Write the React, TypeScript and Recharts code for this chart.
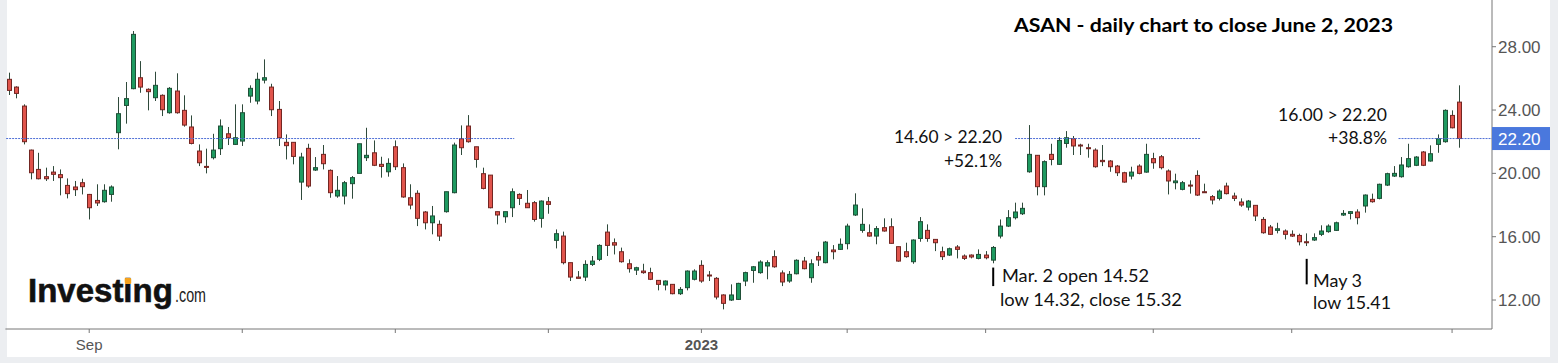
import React from "react";
import { Bar, ComposedChart, ReferenceLine, XAxis, YAxis } from "recharts";

// daily OHLC, 17 Aug 2022 .. 2 Jun 2023
const opens = [
  25.94, 25.45, 24.25, 21.47, 20.25, 19.79, 20.08, 19.92, 19.24, 19.14, 19.41, 18.67, 18.29, 18.21, 18.67, 22.57, 24.29, 25.35, 26.04, 25.31,
  24.78, 24.93, 23.83, 25.2, 23.98, 22.93, 21.41, 20.44, 20.99, 21.56, 22.5, 21.83, 22.04, 24.88, 24.57, 25.89, 25.45, 24.04, 21.96, 21.96,
  19.45, 21.58, 20.21, 21.2, 20.19, 18.57, 18.57, 19.35, 20.0, 20.99, 21.3, 20.57, 20.1, 21.68, 20.36, 18.46, 18.74, 17.56, 16.88, 16.78,
  17.58, 18.78, 22.19, 22.99, 21.68, 19.98, 19.89, 17.58, 17.26, 17.83, 18.67, 18.11, 18.15, 17.16, 18.21, 15.77, 16.04, 14.36, 13.45, 13.45,
  14.25, 14.57, 16.29, 15.62, 15.05, 14.29, 13.89, 13.83, 13.73, 13.24, 12.95, 12.99, 12.4, 12.78, 13.31, 14.19, 13.58, 13.37, 12.32, 12.0,
  12.04, 13.2, 13.87, 13.73, 14.15, 14.74, 13.71, 13.2, 13.66, 14.46, 13.41, 14.74, 14.36, 15.16, 15.2, 15.56, 17.37, 16.4, 16.25, 16.04,
  16.57, 16.63, 15.37, 15.05, 14.42, 15.89, 16.4, 15.83, 15.05, 14.84, 15.35, 14.78, 14.84, 14.63, 14.84, 14.52, 16.04, 16.67, 17.2, 17.45,
  20.1, 21.14, 19.16, 21.2, 20.57, 21.89, 22.19, 21.79, 21.62, 21.47, 20.82, 20.78, 20.46, 20.04, 19.83, 20.46, 20.08, 20.93, 21.05, 20.15,
  19.41, 18.99, 19.26, 19.87, 18.84, 18.53, 18.42, 19.2, 18.57, 18.19, 17.87, 17.98, 17.09, 16.61, 16.4, 16.36, 16.15, 16.08, 15.68, 15.79,
  16.15, 16.32, 16.4, 17.37, 17.47, 17.56, 17.94, 18.36, 18.42, 19.26, 19.83, 19.79, 20.42, 20.51, 21.35, 20.78, 21.83, 22.0, 23.66, 24.5,
];
const highs = [
  26.36, 25.5, 24.36, 21.5, 21.3, 20.36, 20.46, 20.25, 19.68, 19.52, 19.66, 18.7, 19.31, 19.31, 19.24, 24.82, 25.77, 28.99, 27.09, 25.37,
  26.42, 24.99, 25.45, 26.32, 24.93, 23.66, 21.83, 21.56, 22.5, 23.41, 22.93, 24.36, 24.36, 25.56, 26.36, 27.2, 25.66, 24.57, 22.46, 21.96,
  21.3, 21.87, 21.03, 21.79, 20.25, 19.83, 19.52, 19.83, 21.87, 22.88, 22.08, 21.05, 20.95, 22.08, 20.63, 19.31, 18.93, 17.62, 17.94, 17.03,
  18.84, 21.94, 23.03, 23.68, 21.68, 20.36, 19.89, 17.58, 17.58, 19.05, 18.74, 18.95, 18.25, 18.29, 18.51, 16.46, 16.32, 14.36, 13.83, 14.51,
  14.78, 15.52, 16.78, 15.89, 15.31, 14.57, 14.1, 14.29, 14.04, 13.24, 13.24, 12.99, 12.82, 13.87, 13.94, 14.51, 13.83, 13.45, 12.36, 12.99,
  13.09, 13.79, 14.15, 14.51, 14.51, 15.14, 13.87, 13.83, 14.57, 14.72, 14.57, 15.05, 15.73, 15.47, 15.89, 16.82, 18.74, 17.79, 16.78, 16.67,
  17.16, 17.16, 15.37, 15.62, 15.83, 17.24, 16.78, 15.83, 15.37, 15.31, 15.47, 14.88, 14.88, 15.2, 15.09, 15.41, 17.09, 17.68, 18.15, 18.15,
  23.05, 21.16, 20.82, 21.87, 22.29, 22.67, 22.36, 21.87, 21.87, 21.58, 21.79, 20.84, 20.53, 20.1, 20.42, 20.57, 21.87, 21.3, 21.16, 20.25,
  19.98, 19.52, 19.56, 20.19, 19.35, 18.63, 18.99, 19.41, 18.78, 18.42, 18.32, 17.98, 17.24, 16.74, 16.88, 16.46, 16.4, 16.19, 16.21, 16.21,
  16.72, 16.78, 16.95, 17.68, 17.62, 17.73, 18.67, 18.72, 19.35, 20.04, 20.46, 21.03, 21.87, 21.09, 21.41, 21.77, 22.46, 24.04, 23.98, 25.56,
];
const lows = [
  24.95, 24.74, 21.83, 19.62, 19.62, 19.52, 19.52, 18.61, 18.42, 18.57, 18.67, 17.09, 17.94, 18.15, 18.21, 21.52, 23.14, 25.31, 25.09, 23.98,
  24.57, 23.62, 23.77, 23.77, 22.95, 21.83, 20.46, 20.0, 20.88, 21.16, 21.79, 21.79, 21.73, 24.46, 24.36, 25.68, 23.62, 21.73, 20.88, 20.57,
  18.32, 19.09, 20.15, 20.25, 18.46, 18.46, 18.04, 18.4, 20.0, 20.78, 20.46, 19.73, 19.79, 20.21, 18.46, 17.73, 16.67, 16.46, 16.15, 15.73,
  17.52, 18.74, 21.16, 21.94, 20.36, 18.99, 17.79, 16.78, 16.88, 17.24, 18.0, 17.83, 16.95, 16.57, 17.45, 15.26, 14.25, 13.2, 13.37, 13.2,
  14.15, 14.46, 14.78, 14.88, 14.36, 13.73, 13.58, 13.66, 13.26, 12.61, 12.61, 12.36, 12.32, 12.61, 13.24, 13.09, 13.2, 12.04, 11.41, 11.94,
  12.0, 12.88, 13.09, 13.66, 13.31, 14.04, 12.88, 13.09, 13.62, 13.94, 13.09, 14.15, 14.32, 14.57, 15.16, 15.2, 17.31, 16.25, 16.0, 15.52,
  16.32, 15.56, 14.42, 14.67, 14.29, 15.68, 15.68, 15.09, 14.53, 14.78, 14.63, 14.53, 14.63, 14.57, 14.57, 14.32, 15.89, 16.61, 17.09, 17.37,
  20.04, 18.61, 18.61, 20.51, 20.53, 21.62, 21.16, 21.16, 20.99, 20.36, 20.46, 20.1, 19.83, 19.41, 19.62, 19.94, 20.04, 20.29, 20.25, 18.67,
  18.99, 18.93, 18.72, 18.57, 18.78, 18.04, 18.29, 18.67, 18.25, 17.89, 17.66, 16.99, 16.19, 16.11, 16.21, 15.83, 15.98, 15.45, 15.41, 15.73,
  16.04, 16.25, 16.36, 17.31, 17.09, 16.78, 17.52, 18.15, 18.36, 19.2, 19.77, 19.73, 20.36, 20.46, 20.46, 20.74, 21.3, 21.94, 22.84, 21.62,
];
const closes = [
  25.24, 25.05, 22.0, 20.04, 19.66, 19.66, 19.94, 19.73, 18.72, 18.97, 19.16, 17.83, 18.13, 18.93, 19.14, 23.77, 24.72, 28.78, 25.45, 25.16,
  25.56, 24.02, 25.37, 23.83, 23.05, 21.89, 20.67, 20.4, 21.47, 22.99, 22.25, 22.25, 23.83, 25.37, 25.94, 26.04, 24.02, 22.25, 21.75, 21.07,
  21.03, 19.2, 20.36, 20.61, 18.78, 18.93, 19.41, 19.73, 21.87, 21.14, 20.51, 20.44, 20.63, 20.42, 18.51, 18.0, 17.16, 16.88, 17.31, 16.04,
  18.84, 21.79, 21.62, 22.0, 20.88, 19.05, 17.83, 17.37, 17.58, 18.84, 18.42, 17.83, 17.09, 18.25, 18.04, 16.19, 14.36, 13.45, 13.37, 14.25,
  14.46, 15.45, 15.45, 15.47, 14.42, 13.98, 14.04, 13.73, 13.31, 12.99, 13.2, 12.4, 12.67, 13.83, 13.83, 13.2, 13.52, 12.19, 11.79, 12.32,
  13.05, 13.73, 14.1, 14.4, 14.36, 14.1, 13.14, 13.62, 14.51, 13.98, 14.29, 14.53, 15.66, 15.05, 15.52, 16.67, 18.0, 16.78, 16.04, 16.51,
  16.36, 15.58, 14.46, 14.74, 15.79, 16.95, 15.89, 15.62, 14.74, 15.24, 15.2, 14.63, 14.72, 14.88, 14.67, 15.32, 16.67, 17.2, 17.56, 17.79,
  21.2, 19.16, 20.74, 20.88, 22.08, 22.25, 21.73, 21.73, 21.56, 20.42, 20.74, 20.42, 20.04, 19.45, 20.08, 20.0, 21.2, 20.67, 20.36, 19.52,
  19.52, 19.41, 19.2, 18.63, 18.78, 18.32, 18.88, 18.72, 18.42, 18.0, 18.25, 17.31, 16.25, 16.15, 16.5, 16.15, 16.04, 15.68, 15.64, 15.94,
  16.36, 16.67, 16.88, 17.47, 17.58, 17.2, 18.63, 18.21, 19.31, 19.98, 20.0, 20.53, 20.93, 21.03, 20.51, 21.24, 22.19, 23.98, 22.88, 22.2,
];

const firstDay = "2022-08-17";
const lastDay = "2023-06-02";
const holidays = ["2022-09-05", "2022-11-24", "2022-12-26", "2023-01-02", "2023-01-16", "2023-02-20", "2023-04-07", "2023-05-29"];
const monthTicks = ["2022-09-01", "2022-10-03", "2022-11-01", "2022-12-01", "2023-01-03", "2023-02-01", "2023-03-01", "2023-04-03", "2023-05-01", "2023-06-01"];
const tickNames: Record<string, string> = { "2022-09-01": "Sep", "2023-01-03": "2023" };
const priceTicks = [12, 16, 20, 22.2, 24, 28];
const lastPrice = 22.2;

const tradingDays = () => {
  const out: string[] = [];
  const d = new Date(firstDay + "T00:00:00Z");
  const end = new Date(lastDay + "T00:00:00Z");
  while (d <= end) {
    const s = d.toISOString().slice(0, 10);
    const wd = d.getUTCDay();
    if (wd !== 0 && wd !== 6 && !holidays.includes(s)) out.push(s);
    d.setUTCDate(d.getUTCDate() + 1);
  }
  return out;
};

const dates = tradingDays();
const data = dates.map((date, i) => ({
  date,
  idx: i,
  open: opens[i],
  high: highs[i],
  low: lows[i],
  close: closes[i],
}));

const UP = "#1e9a60";
const UP_EDGE = "#1f4f37";
const DOWN = "#e0544c";
const DOWN_EDGE = "#732622";
const WICK = "#2f4a3b";
const DOTS = "#4f6fd6";

const Candle = (props: any) => {
  const { x, y, width, height, payload } = props;
  if (!payload || height == null) return null;
  const { open, high, low, close } = payload;
  const k = height / (high - low || 1);
  const cx = Math.round(x + width / 2) + 0.5;
  const top = y + (high - Math.max(open, close)) * k;
  const bot = y + (high - Math.min(open, close)) * k;
  const up = close >= open;
  return (
    <g>
      <line x1={cx} x2={cx} y1={y} y2={y + height} stroke={WICK} strokeWidth={1} />
      <rect
        x={cx - 2}
        y={top}
        width={4}
        height={Math.max(bot - top, 1)}
        fill={up ? UP : DOWN}
        stroke={up ? UP_EDGE : DOWN_EDGE}
        strokeWidth={1}
      />
    </g>
  );
};

const PriceTick = (props: any) => {
  const { x, y, payload } = props;
  const v = payload.value;
  if (v === lastPrice) {
    return (
      <g>
        <rect x={x - 6} y={y - 11.5} width={58} height={23} fill="#4a78dd" />
        <text x={x} y={y} dy="0.36em" fill="#fff" fontSize={17} fontFamily="Liberation Sans, Arial">
          {v.toFixed(2)}
        </text>
      </g>
    );
  }
  return (
    <text x={x} y={y} dy="0.36em" fill="#555" fontSize={17} fontFamily="Liberation Sans, Arial">
      {v.toFixed(2)}
    </text>
  );
};

const DateTick = (props: any) => {
  const { x, y, payload } = props;
  const name = tickNames[payload.value] || "";
  if (!name) return null;
  return (
    <text
      x={x}
      y={y}
      dy="0.75em"
      textAnchor="middle"
      fill="#555"
      fontSize={15}
      fontWeight={name === "2023" ? "bold" : "normal"}
      fontFamily="Liberation Sans, Arial"
    >
      {name}
    </text>
  );
};

const note = { fontFamily: "Lato, Open Sans, sans-serif", fontSize: 17, fill: "#111" };

export default function App() {
  return (
    <div style={{ position: "absolute", left: 0, top: 0, width: 1558, height: 363, background: "#eceef1" }}>
      <div style={{ position: "absolute", left: 7, top: 0, width: 1543, height: 357, background: "#fff" }} />
      <div style={{ position: "absolute", left: 0, top: 0 }}>
        <ComposedChart width={1558} height={363} data={data} margin={{ top: 0, right: 0, bottom: 0, left: 5.4 }}>
          <XAxis
            xAxisId="d"
            dataKey="date"
            type="category"
            ticks={monthTicks}
            interval={0}
            tick={<DateTick />}
            tickSize={4}
            tickMargin={6}
            padding={{ left: 0, right: 29 }}
            height={34}
            stroke="#777"
          />
          <XAxis xAxisId="n" dataKey="idx" type="number" domain={[-0.5, 203.42]} allowDataOverflow hide />
          <YAxis
            orientation="right"
            domain={[10.17, 30.95]}
            allowDataOverflow
            ticks={priceTicks}
            interval={0}
            tick={<PriceTick />}
            tickSize={4}
            tickMargin={2}
            width={66}
            stroke="#777"
          />
          <ReferenceLine xAxisId="n" segment={[{ x: -0.4, y: lastPrice }, { x: 69.3, y: lastPrice }]} stroke={DOTS} strokeDasharray="2 1" />
          <ReferenceLine xAxisId="n" segment={[{ x: 138, y: lastPrice }, { x: 163.5, y: lastPrice }]} stroke={DOTS} strokeDasharray="2 1" />
          <ReferenceLine xAxisId="n" segment={[{ x: 190.6, y: lastPrice }, { x: 203.4, y: lastPrice }]} stroke={DOTS} strokeDasharray="2 1" />
          <ReferenceLine xAxisId="n" segment={[{ x: 135, y: 12.88 }, { x: 135, y: 14.05 }]} stroke="#000" strokeWidth={2} />
          <ReferenceLine xAxisId="n" segment={[{ x: 178, y: 12.99 }, { x: 178, y: 14.6 }]} stroke="#000" strokeWidth={2} />
          <Bar xAxisId="d" dataKey={(d: any) => [d.low, d.high]} shape={<Candle />} isAnimationActive={false} />
        </ComposedChart>
      </div>
      <svg width={1558} height={363} style={{ position: "absolute", left: 0, top: 0, pointerEvents: "none" }}>
        <text x={1014} y={31.5} fontFamily="Lato, Open Sans, sans-serif" fontWeight="bold" fontSize={19} fill="#000" textLength={379} lengthAdjust="spacingAndGlyphs">
          ASAN - daily chart to close June 2, 2023
        </text>
        <text x={894} y={142.7} {...note} textLength={108} lengthAdjust="spacingAndGlyphs">14.60 &gt; 22.20</text>
        <text x={944} y={166.5} {...note} textLength={58} lengthAdjust="spacingAndGlyphs">+52.1%</text>
        <text x={1002} y={281.5} {...note} textLength={147} lengthAdjust="spacingAndGlyphs">Mar. 2 open 14.52</text>
        <text x={1000} y={306} {...note} textLength={182} lengthAdjust="spacingAndGlyphs">low 14.32, close 15.32</text>
        <text x={1313} y={286.5} {...note} textLength={49} lengthAdjust="spacingAndGlyphs">May 3</text>
        <text x={1313} y={309} {...note} textLength={78} lengthAdjust="spacingAndGlyphs">low 15.41</text>
        <text x={1278} y={120.7} {...note} textLength={109} lengthAdjust="spacingAndGlyphs">16.00 &gt; 22.20</text>
        <text x={1328} y={144} {...note} textLength={59} lengthAdjust="spacingAndGlyphs">+38.8%</text>
        <text x={28} y={302} fontFamily="Liberation Sans, Arial" fontWeight="bold" fontSize={33} fill="#111" stroke="#111" strokeWidth={0.6}>
          Investing
        </text>
        <text x={175} y={302} fontFamily="Liberation Sans, Arial" fontSize={21} fill="#222" textLength={31} lengthAdjust="spacingAndGlyphs">
          .com
        </text>
        <rect x={124.8} y={278} width={6.4} height={6} rx={1} fill="#f5a21d" />
      </svg>
    </div>
  );
}
